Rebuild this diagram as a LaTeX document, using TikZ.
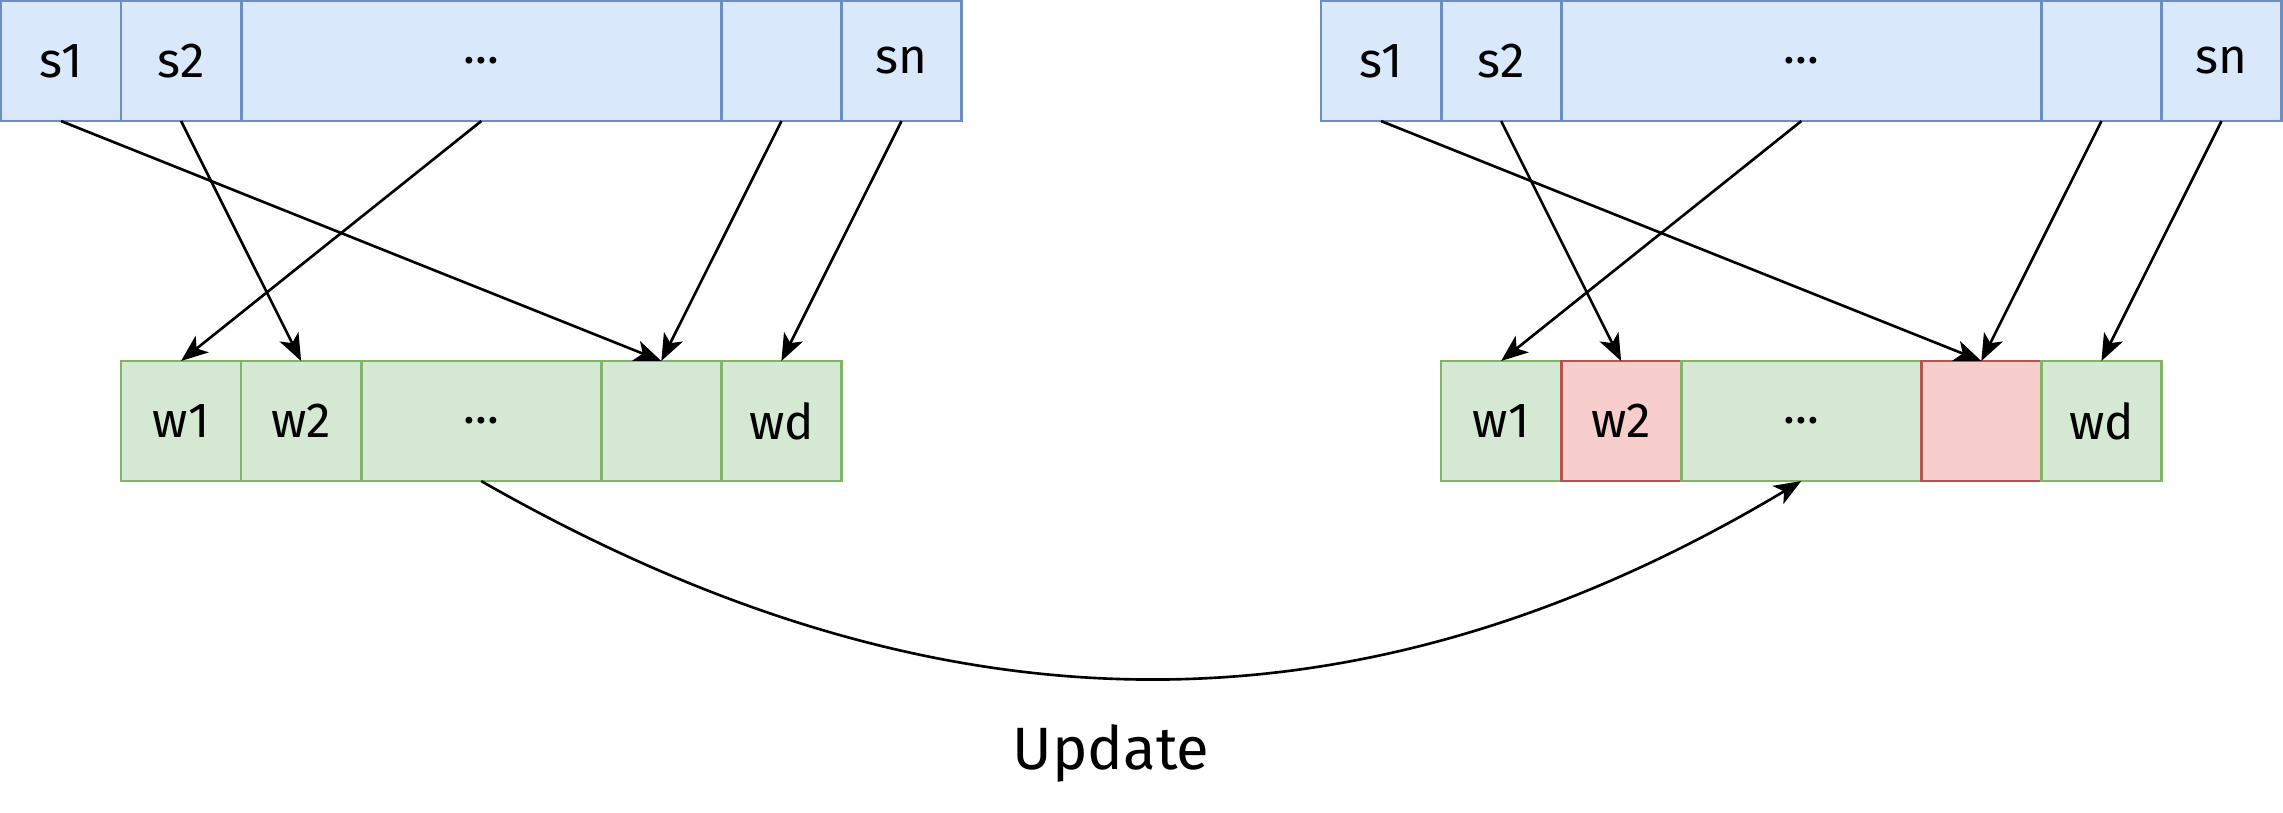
\documentclass[tikz,border=0pt]{standalone}
\usepackage{fontspec}
\setmainfont{Fira Sans}
\usetikzlibrary{arrows.meta, positioning}
\definecolor{SlotFill}{HTML}{DAE8FC}
\definecolor{SlotLine}{HTML}{6C8EBF}
\definecolor{WeightFill}{HTML}{D5E8D4}
\definecolor{WeightLine}{HTML}{82B366}
\definecolor{HitFill}{HTML}{F8CECC}
\definecolor{HitLine}{HTML}{B85450}
\tikzset{
    cell/.style={rectangle, line width=0.8pt, minimum width=1.2cm,
                 minimum height=1.2cm, inner sep=0pt, outer sep=0pt,
                 font=\fontsize{14}{16}\selectfont, node distance=0pt},
    slot/.style={cell, fill=SlotFill, draw=SlotLine},
    weight/.style={cell, fill=WeightFill, draw=WeightLine},
    hit/.style={cell, fill=HitFill, draw=HitLine},
    link/.style={-{Stealth[length=0.27cm, width=0.21cm, inset=0.07cm]},
                 line width=0.75pt, black}
}
\begin{document}
\begin{tikzpicture}[x=0.01cm, y=-0.01cm]
    \useasboundingbox (0,0) rectangle (2283,813);

    % Left: source slots
    \node[slot, anchor=north west] (ls1) at (1,1) {s1};
    \node[slot, right=of ls1] (ls2) {s2};
    \node[slot, right=of ls2, minimum width=4.8cm] (lsdots) {...};
    \node[slot, right=of lsdots] (lsx) {};
    \node[slot, right=of lsx] (lsn) {sn};

    % Left: weights
    \node[weight, anchor=north west] (lw1) at (121,361) {w1};
    \node[weight, right=of lw1] (lw2) {w2};
    \node[weight, right=of lw2, minimum width=2.4cm] (lwdots) {...};
    \node[weight, right=of lwdots] (lwx) {};
    \node[weight, right=of lwx] (lwd) {wd};

    % Right: source slots
    \node[slot, anchor=north west] (rs1) at (1321,1) {s1};
    \node[slot, right=of rs1] (rs2) {s2};
    \node[slot, right=of rs2, minimum width=4.8cm] (rsdots) {...};
    \node[slot, right=of rsdots] (rsx) {};
    \node[slot, right=of rsx] (rsn) {sn};

    % Right: weights (updated ones in red)
    \node[weight, anchor=north west] (rw1) at (1441,361) {w1};
    \node[hit, right=of rw1] (rw2) {w2};
    \node[weight, right=of rw2, minimum width=2.4cm] (rwdots) {...};
    \node[hit, right=of rwdots] (rwx) {};
    \node[weight, right=of rwx] (rwd) {wd};

    % Hash arrows
    \foreach \side in {l, r} {
        \draw[link] (\side s1.south) -- (\side wx.north);
        \draw[link] (\side s2.south) -- (\side w2.north);
        \draw[link] (\side sdots.south) -- (\side w1.north);
        \draw[link] (\side sx.south) -- (\side wx.north);
        \draw[link] (\side sn.south) -- (\side wd.north);
    }

    % Update curve
    \draw[link] (lwdots.south) .. controls +(460,263) and +(-440,263) .. (rwdots.south);
    \node[font=\fontsize{17}{20}\selectfont] (update) at (1111,753) {Update};
\end{tikzpicture}
\end{document}
